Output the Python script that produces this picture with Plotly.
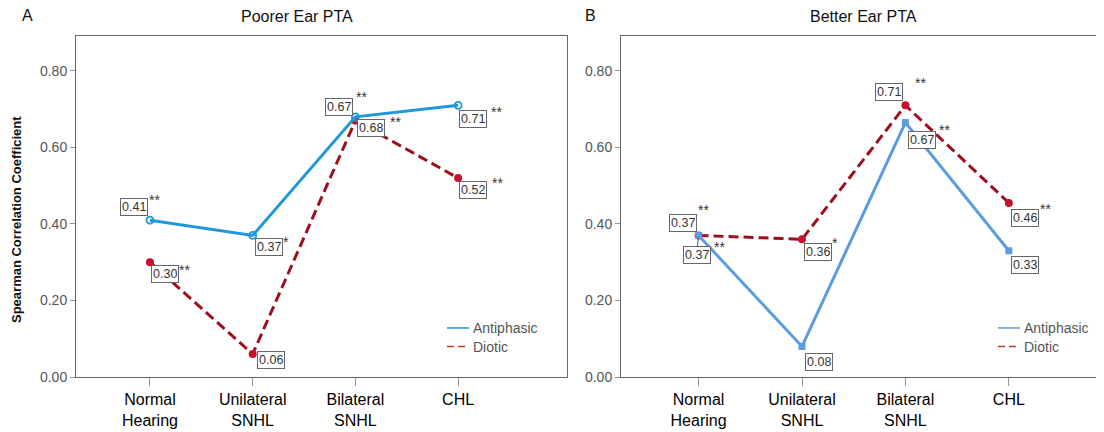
import plotly.graph_objects as go

# ---------------- data ----------------
categories = ["Normal Hearing", "Unilateral SNHL", "Bilateral SNHL", "CHL"]
tick_labels = ["Normal<br>Hearing", "Unilateral<br>SNHL", "Bilateral<br>SNHL", "CHL"]

poorer_antiphasic = [0.41, 0.37, 0.68, 0.71]
poorer_diotic = [0.30, 0.06, 0.67, 0.52]
poorer_antiphasic_sig = ["**", "*", "**", "**"]
poorer_diotic_sig = ["**", "", "**", "**"]

better_antiphasic = [0.37, 0.08, 0.665, 0.33]
better_diotic = [0.37, 0.36, 0.71, 0.455]
better_antiphasic_sig = ["**", "", "**", ""]
better_diotic_sig = ["**", "*", "**", "**"]

panel_titles = ["Poorer Ear PTA", "Better Ear PTA"]
panel_letters = ["A", "B"]
series_names = ["Antiphasic", "Diotic"]

# ---------------- label placement (pixel offsets from the point) ----------------
# (box dx, box dy, stars dx, stars dy); dy positive = downwards
poorer_antiphasic_pos = [(-16, -13, 4, -20), (16, 12, 32, 7), (16, 11, 39, 5), (15, 14, 37, 7)]
poorer_diotic_pos = [(15, 12, 34, 8), (18, 6, 0, 0), (-16, -14, 5, -24), (15, 12, 38, 5)]
better_antiphasic_pos = [(-2, 20, 20, 12), (17, 16, 0, 0), (17, 17, 38, 7), (16, 14, 0, 0)]
better_diotic_pos = [(-16, -12, 4, -25), (16, 13, 32, 4), (-16, -13, 14, -22), (16, 15, 36, 6)]

W, H = 1104, 432
OFF = 8  # default page body margin: screen px = figure px + 8
FONT = "Arial, Liberation Sans, sans-serif"


def px(x):
    return (x - OFF) / W


def py(y):
    return 1 - (y - OFF) / H


blue_a = "#1F97DB"
blue_b = "#5B9BE0"
red_line = "#9E0F1C"
red_marker = "#C8102E"
legend_red = "#C0392B"

fig = go.Figure()

panels = [
    dict(xa="x", ya="y", ant=poorer_antiphasic, dio=poorer_diotic,
         ant_sig=poorer_antiphasic_sig, dio_sig=poorer_diotic_sig,
         ant_pos=poorer_antiphasic_pos, dio_pos=poorer_diotic_pos,
         blue=blue_a, ant_marker=dict(symbol="circle-open", size=7, color=blue_a, line=dict(width=1.8, color=blue_a)),
         leg_x=447),
    dict(xa="x2", ya="y2", ant=better_antiphasic, dio=better_diotic,
         ant_sig=better_antiphasic_sig, dio_sig=better_diotic_sig,
         ant_pos=better_antiphasic_pos, dio_pos=better_diotic_pos,
         blue=blue_b, ant_marker=dict(symbol="square", size=7, color=blue_b),
         leg_x=998),
]

annotations = []
shapes = []
for p in panels:
    fig.add_trace(go.Scatter(x=categories, y=p["dio"], mode="lines+markers", xaxis=p["xa"], yaxis=p["ya"],
                             name=series_names[1],
                             line=dict(color=red_line, width=3, dash="10px,5px"),
                             marker=dict(symbol="circle", size=8, color=red_marker),
                             showlegend=False, cliponaxis=False))
    fig.add_trace(go.Scatter(x=categories, y=p["ant"], mode="lines+markers", xaxis=p["xa"], yaxis=p["ya"],
                             name=series_names[0],
                             line=dict(color=p["blue"], width=3),
                             marker=p["ant_marker"], showlegend=False, cliponaxis=False))

    # legend drawn inside the plot area
    lx = p["leg_x"]
    for i, (name, col, dash) in enumerate([(series_names[0], p["blue"], "solid"),
                                           (series_names[1], legend_red, "7px,4px")]):
        ly = 334 + 19 * i
        shapes.append(dict(type="line", xref="paper", yref="paper", x0=px(lx), x1=px(lx + 22),
                           y0=py(ly), y1=py(ly), line=dict(color=col, width=1.5, dash=dash)))
        annotations.append(dict(x=px(lx + 24), y=py(ly), xref="paper", yref="paper", text=name,
                                showarrow=False, xanchor="left", yanchor="middle",
                                font=dict(family=FONT, size=14, color="#555555")))

    for vals, sigs, poss in [(p["ant"], p["ant_sig"], p["ant_pos"]), (p["dio"], p["dio_sig"], p["dio_pos"])]:
        for cat, v, s, (bdx, bdy, sdx, sdy) in zip(categories, vals, sigs, poss):
            arrow = (bdx == -2 and bdy == 20)
            ann = dict(x=cat, y=v, xref=p["xa"], yref=p["ya"], text=f"{round(v, 2):.2f}",
                       xanchor="center", yanchor="middle",
                       font=dict(family=FONT, size=12.5, color="#333333"),
                       bordercolor="#666666", borderwidth=1, borderpad=1, bgcolor="white")
            if arrow:
                ann.update(showarrow=True, ax=bdx, ay=bdy, arrowhead=0, arrowwidth=1,
                           arrowcolor="#555555", standoff=2)
            else:
                ann.update(showarrow=False, xshift=bdx, yshift=-bdy)
            annotations.append(ann)
            if s:
                annotations.append(dict(x=cat, y=v, xref=p["xa"], yref=p["ya"], text=s, showarrow=False,
                                        xanchor="center", yanchor="middle",
                                        xshift=sdx + 1, yshift=-sdy,
                                        font=dict(family=FONT, size=14, color="#333333")))

# titles and panel letters
txt = dict(xref="paper", yref="paper", showarrow=False, xanchor="center", yanchor="middle")
annotations += [
    dict(x=px(297), y=py(17), text=panel_titles[0], font=dict(family=FONT, size=16, color="#111111"), **txt),
    dict(x=px(863), y=py(17), text=panel_titles[1], font=dict(family=FONT, size=16, color="#111111"), **txt),
    dict(x=px(27), y=py(16), text=panel_letters[0], font=dict(family=FONT, size=16, color="#111111"), **txt),
    dict(x=px(590), y=py(16), text=panel_letters[1], font=dict(family=FONT, size=16, color="#111111"), **txt),
    dict(x=px(16), y=py(224), text="<b>Spearman Correlation Coefficient</b>", textangle=-90,
         font=dict(family=FONT, size=13, color="#111111"), **txt),
]

ydom = [py(384), py(37)]
xaxis_common = dict(type="category", tickmode="array", tickvals=categories, ticktext=tick_labels,
                    ticks="outside", ticklen=8, tickcolor="#999999", tickwidth=1,
                    showline=True, linecolor="#666666", linewidth=1, mirror=True, showgrid=False,
                    zeroline=False, tickfont=dict(family=FONT, size=16, color="#000000"))
yaxis_common = dict(range=[0, 0.89], tickvals=[0, 0.2, 0.4, 0.6, 0.8], tickformat=".2f",
                    ticks="outside", ticklen=5, tickcolor="#999999", tickwidth=1,
                    showline=True, linecolor="#666666", linewidth=1, mirror=True, showgrid=False,
                    zeroline=False, tickfont=dict(family=FONT, size=14, color="#555555"))

fig.update_layout(
    width=W, height=H,
    margin=dict(l=0, r=0, t=0, b=0),
    paper_bgcolor="white", plot_bgcolor="white",
    showlegend=False,
    xaxis=dict(domain=[px(76), px(567)], range=[-0.72, 4.06], anchor="y", **xaxis_common),
    yaxis=dict(domain=ydom, anchor="x", **yaxis_common),
    xaxis2=dict(domain=[px(621), px(1104)], range=[-0.75, 3.92], anchor="y2", **xaxis_common),
    yaxis2=dict(domain=ydom, anchor="x2", **yaxis_common),
    annotations=annotations,
    shapes=shapes,
    font=dict(family=FONT),
)

fig.write_html("out.html")
